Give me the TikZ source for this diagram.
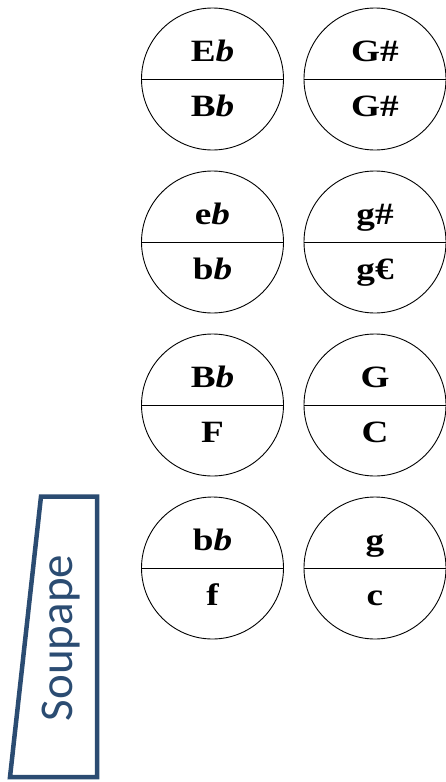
\documentclass[tikz,border=0pt]{standalone}
\usepackage{fontspec}
\setmainfont{Liberation Serif}
\newfontfamily\carlito{Carlito}
\definecolor{soupblue}{HTML}{2B4C72}
\tikzset{
  key/.style={circle, draw=black, line width=0.9pt, minimum size=142pt, inner sep=0pt},
  divider/.style={line width=0.9pt},
  note/.style={anchor=base, inner sep=0pt, font=\fontsize{31}{36}\selectfont\bfseries},
  valve/.style={draw=soupblue, line width=4.5pt, line join=miter},
  valvetext/.style={text=soupblue, rotate=90, inner sep=0pt, font=\carlito\fontsize{47}{50}\selectfont}
}
\newcommand{\myflat}{\textit{b}}
\newcommand{\wide}[1]{\scalebox{1.2}[1]{#1}}
\begin{document}
\begin{tikzpicture}[x=1pt,y=-1pt]
\useasboundingbox (0,0) rectangle (445,782);
% row 1
\node[key] (a1) at (212.5,79) {};
\node[key] (b1) at (375,79) {};
% row 2
\node[key] (a2) at (212.5,242) {};
\node[key] (b2) at (375,242) {};
% row 3
\node[key] (a3) at (212.5,405) {};
\node[key] (b3) at (375,405) {};
% row 4
\node[key] (a4) at (212.5,568) {};
\node[key] (b4) at (375,568) {};
\foreach \n in {a1,b1,a2,b2,a3,b3,a4,b4}{
  \draw[divider] (\n.west) -- (\n.east);
}
% labels
\node[note] (a1t) at ([yshift=18pt]a1.center) {\wide{E\myflat}};
\node[note] (a1b) at ([yshift=-37pt]a1.center) {\wide{B\myflat}};
\node[note] (b1t) at ([yshift=18pt]b1.center) {\wide{G\#}};
\node[note] (b1b) at ([yshift=-37pt]b1.center) {\wide{G\#}};
\node[note] (a2t) at ([yshift=18pt]a2.center) {\wide{e\myflat}};
\node[note] (a2b) at ([yshift=-37pt]a2.center) {\wide{b\myflat}};
\node[note] (b2t) at ([yshift=18pt]b2.center) {\wide{g\#}};
\node[note] (b2b) at ([yshift=-37pt]b2.center) {\wide{g€}};
\node[note] (a3t) at ([yshift=18pt]a3.center) {\wide{B\myflat}};
\node[note] (a3b) at ([yshift=-37pt]a3.center) {\wide{F}};
\node[note] (b3t) at ([yshift=18pt]b3.center) {\wide{G}};
\node[note] (b3b) at ([yshift=-37pt]b3.center) {\wide{C}};
\node[note] (a4t) at ([yshift=18pt]a4.center) {\wide{b\myflat}};
\node[note] (a4b) at ([yshift=-37pt]a4.center) {\wide{f}};
\node[note] (b4t) at ([yshift=18pt]b4.center) {\wide{g}};
\node[note] (b4b) at ([yshift=-37pt]b4.center) {\wide{c}};
% valve
\draw[valve] (41,496.5) -- (97,496.5) -- (97,777) -- (10,777) -- cycle;
\node[valvetext] (soup) at (61,638) {Soupape};
\end{tikzpicture}
\end{document}
